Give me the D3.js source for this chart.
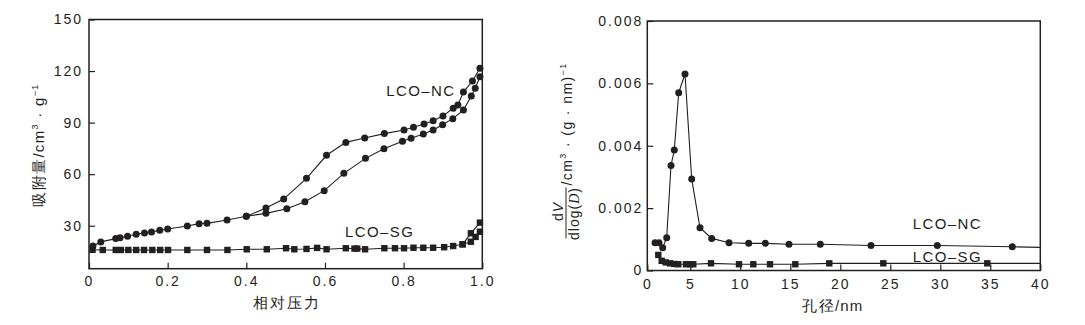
<!DOCTYPE html>
<html><head><meta charset="utf-8">
<script src="https://cdn.jsdelivr.net/npm/d3@7"></script>
<style>
body{margin:0;background:#fff}
svg text{font-family:"Liberation Sans",Arial,Helvetica,sans-serif;fill:#231f20}
</style></head><body>
<svg id="c" width="1085" height="325"></svg>
<script>
// ---------- data: left chart (N2 isotherm) ----------
const leftXTicks = [0, 0.2, 0.4, 0.6, 0.8, 1.0];
const leftXTickLabels = ["0", "0.2", "0.4", "0.6", "0.8", "1.0"];
const leftYTicks = [30, 60, 90, 120, 150];
const leftYTickLabels = ["30", "60", "90", "120", "150"];
const leftXDomain = [0, 1];
const leftYDomain = [5, 150];

const ncAds = [[0.01,18.2],[0.03,20.6],[0.068,22.5],[0.079,23],[0.098,23.9],[0.12,25],[0.141,25.8],[0.159,26.4],[0.18,27.3],[0.2,28.1],[0.25,29.8],[0.28,31.2],[0.30,31.4],[0.351,33.3],[0.40,35.5],[0.45,37.2],[0.503,39.9],[0.549,44],[0.598,50.4],[0.648,60.5],[0.703,69.2],[0.75,74.8],[0.797,79.1],[0.819,80.9],[0.85,83.4],[0.875,85.7],[0.899,88.8],[0.925,92.3],[0.952,97.3],[0.972,105.5],[0.982,110],[0.994,116.7]];
const ncDes = [[0.40,35.5],[0.45,40.3],[0.495,45.5],[0.553,57.6],[0.604,71],[0.653,78.5],[0.701,81],[0.751,83.6],[0.801,85.7],[0.825,87.3],[0.852,89.2],[0.875,91.1],[0.90,93.9],[0.926,98.4],[0.938,100.3],[0.952,107.8],[0.975,114.2],[0.994,121.6]];
const sgAds = [[0.009,16.0],[0.035,15.9],[0.068,15.9],[0.081,15.9],[0.1,15.9],[0.12,15.9],[0.14,15.9],[0.161,15.9],[0.181,15.9],[0.201,15.9],[0.25,15.9],[0.30,15.9],[0.352,15.9],[0.401,16.3],[0.452,16.3],[0.501,16.9],[0.522,16.3],[0.553,16.5],[0.58,17.1],[0.604,16.3],[0.653,16.9],[0.675,16.7],[0.682,16.7],[0.702,16.3],[0.751,16.9],[0.778,16.9],[0.801,16.9],[0.825,17.2],[0.85,17.2],[0.875,17.2],[0.903,17.5],[0.926,18.2],[0.95,19.2],[0.971,20.7],[0.983,23.5],[0.994,26.5]];
const sgDes = [[0.95,19.2],[0.971,25.6],[0.994,31.8]];
const leftLabels = [{t:"LCO\u2013NC", x:0.844, y:105.2}, {t:"LCO\u2013SG", x:0.739, y:23.6}];

// ---------- data: right chart (pore size distribution) ----------
const rightXTicks = [0.7, 5, 10, 15, 20, 25, 30, 35, 40];
const rightXTickLabels = ["0", "5", "10", "15", "20", "25", "30", "35", "40"];
const rightYTicks = [0, 0.002, 0.004, 0.006, 0.008];
const rightYTickLabels = ["0", "0.002", "0.004", "0.006", "0.008"];
const rightXDomain = [0.7, 40];
const rightYDomain = [0, 0.008];

const ncPsd = [[1.47,0.00089],[1.87,0.00089],[2.24,0.00073],[2.64,0.00105],[3.07,0.00337],[3.4,0.00386],[3.84,0.0057],[4.47,0.0063],[5.14,0.00293],[5.97,0.00137],[7.14,0.00103],[8.87,0.00089],[10.84,0.00087],[12.5,0.00087],[14.87,0.00084],[18.0,0.00084],[23.07,0.0008],[29.7,0.0008],[37.2,0.00076]];
const ncPsdEdge = [40, 0.00074];
const sgPsd = [[1.8,0.0005],[2.14,0.00031],[2.54,0.00026],[2.97,0.00023],[3.4,0.00021],[3.8,0.0002],[4.57,0.0002],[4.97,0.0002],[5.3,0.0002],[7.07,0.00023],[9.87,0.0002],[11.3,0.0002],[12.97,0.0002],[15.5,0.0002],[18.9,0.00023],[24.3,0.00023],[34.7,0.00023]];
const sgPsdEdge = [40, 0.00023];
const rightLabels = [{t:"LCO\u2013NC", x:27.24, y:0.00132}, {t:"LCO\u2013SG", x:27.24, y:0.000282}];

// ---------- drawing ----------
const INK = "#231f20";
const svg = d3.select("#c");

function drawPanel(o) {
  const g = svg.append("g");
  const x = d3.scaleLinear().domain(o.xDomain).range([o.left, o.right]);
  const y = d3.scaleLinear().domain(o.yDomain).range([o.bottom, o.top]);

  const xa = g.append("g").attr("transform", `translate(0,${o.bottom})`)
    .call(d3.axisBottom(x).tickValues(o.xTicks)
      .tickFormat((d, i) => o.xTickLabels[i])
      .tickSizeInner(-6).tickSizeOuter(0).tickPadding(o.xPad));
  const ya = g.append("g").attr("transform", `translate(${o.left},0)`)
    .call(d3.axisLeft(y).tickValues(o.yTicks)
      .tickFormat((d, i) => o.yTickLabels[i])
      .tickSizeInner(-6).tickSizeOuter(0).tickPadding(o.yPad));
  [xa, ya].forEach(a => {
    a.select(".domain").remove();
    a.selectAll("line").attr("stroke", INK).attr("stroke-width", 1.2);
    a.selectAll("text").attr("fill", INK).style("font-size", "14px")
      .style("letter-spacing", "2px").attr("font-family", null);
  });
  ya.selectAll("text").attr("dx", "2px");

  g.append("rect").attr("x", o.left).attr("y", o.top)
    .attr("width", o.right - o.left).attr("height", o.bottom - o.top)
    .attr("fill", "none").attr("stroke", INK).attr("stroke-width", 1.5);

  const clipId = "clip" + o.id;
  svg.append("clipPath").attr("id", clipId).append("rect")
    .attr("x", o.left).attr("y", o.top).attr("width", o.right - o.left).attr("height", o.bottom - o.top);

  const line = d3.line().x(d => x(d[0])).y(d => y(d[1]));
  o.series.forEach(s => {
    g.append("path").attr("d", line(s.line || s.pts)).attr("fill", "none")
      .attr("stroke", INK).attr("stroke-width", 1.1).attr("clip-path", `url(#${clipId})`);
  });
  o.series.forEach(s => {
    if (s.shape === "circle") {
      g.selectAll(null).data(s.pts).join("circle")
        .attr("cx", d => x(d[0])).attr("cy", d => y(d[1])).attr("r", 3.5).attr("fill", INK);
    } else {
      g.selectAll(null).data(s.pts).join("rect")
        .attr("x", d => x(d[0]) - 3.2).attr("y", d => y(d[1]) - 3.2)
        .attr("width", 6.4).attr("height", 6.4).attr("fill", INK);
    }
  });
  o.labels.forEach(l => {
    g.append("text").attr("x", x(l.x)).attr("y", y(l.y))
      .attr("text-anchor", o.labelAnchor).style("font-size", "15px")
      .style("letter-spacing", "1.4px").text(l.t);
  });
  return {x, y, g};
}

drawPanel({
  id: "L", left: 89, right: 482.3, top: 19.5, bottom: 268.7,
  xDomain: leftXDomain, yDomain: leftYDomain,
  xTicks: leftXTicks, xTickLabels: leftXTickLabels, yTicks: leftYTicks, yTickLabels: leftYTickLabels,
  xPad: 7.5, yPad: 8,
  series: [
    {pts: ncAds, shape: "circle"}, {pts: ncDes, shape: "circle"},
    {pts: sgAds, shape: "square"}, {pts: sgDes, shape: "square"}
  ],
  labels: leftLabels, labelAnchor: "middle"
});

drawPanel({
  id: "R", left: 647.3, right: 1040.3, top: 21, bottom: 270.5,
  xDomain: rightXDomain, yDomain: rightYDomain,
  xTicks: rightXTicks, xTickLabels: rightXTickLabels, yTicks: rightYTicks, yTickLabels: rightYTickLabels,
  xPad: 8.5, yPad: 6,
  series: [
    {pts: ncPsd, line: ncPsd.concat([ncPsdEdge]), shape: "circle"},
    {pts: sgPsd, line: sgPsd.concat([sgPsdEdge]), shape: "square"}
  ],
  labels: rightLabels, labelAnchor: "start"
});

// ---------- axis titles ----------
svg.append("text").attr("x", 287).attr("y", 308).attr("text-anchor", "middle")
  .style("font-size", "15px").style("letter-spacing", "1.8px").text("相对压力");
svg.append("text").attr("x", 833).attr("y", 311).attr("text-anchor", "middle")
  .style("font-size", "15px").style("letter-spacing", "1.2px").text("孔径/nm");

const ly = svg.append("text").attr("transform", "translate(44,145) rotate(-90)")
  .attr("text-anchor", "middle").style("font-size", "15px").style("letter-spacing", "1.3px");
ly.append("tspan").text("吸附量/cm");
ly.append("tspan").attr("dy", -6).style("font-size", "9px").text("3");
ly.append("tspan").attr("dy", 6).text(" · g");
ly.append("tspan").attr("dy", -6).style("font-size", "9px").text("\u22121");

// right y title (fraction)
const ry = svg.append("g").attr("transform", "translate(566,145.5) rotate(-90)");
const num = ry.append("text").attr("x", -66).attr("y", -3.5).attr("text-anchor", "middle")
  .style("font-size", "14px").style("letter-spacing", "1px");
num.append("tspan").text("d");
num.append("tspan").style("font-style", "italic").text("V");
ry.append("line").attr("x1", -93).attr("x2", -42).attr("y1", 0).attr("y2", 0)
  .attr("stroke", INK).attr("stroke-width", 1);
const den = ry.append("text").attr("x", -68).attr("y", 13).attr("text-anchor", "middle")
  .style("font-size", "14px").style("letter-spacing", "1px");
den.append("tspan").text("dlog(");
den.append("tspan").style("font-style", "italic").style("font-family", "'Liberation Serif',serif").text("D");
den.append("tspan").text(")");
const unit = ry.append("text").attr("x", -40).attr("y", 6).attr("text-anchor", "start")
  .style("font-size", "14px").style("letter-spacing", "1.4px");
unit.append("tspan").text("/cm");
unit.append("tspan").attr("dy", -6).style("font-size", "9px").text("3");
unit.append("tspan").attr("dy", 6).text(" · (g · nm)");
unit.append("tspan").attr("dy", -6).style("font-size", "9px").text("\u22121");
</script>
</body></html>
